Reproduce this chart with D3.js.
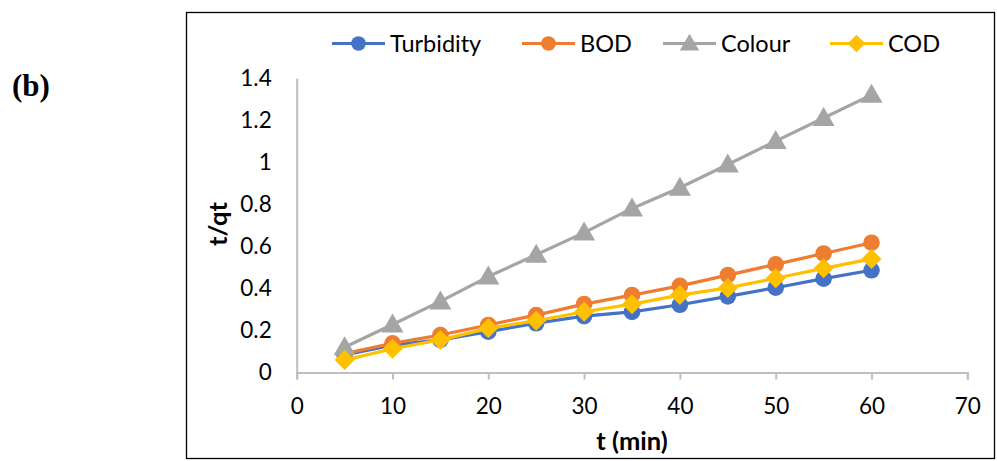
<!DOCTYPE html>
<html>
<head>
<meta charset="utf-8">
<script src="https://cdn.jsdelivr.net/npm/d3@7"></script>
<style>
  html, body { margin: 0; padding: 0; background: #fff; }
  svg { display: block; }
</style>
</head>
<body>
<svg id="chart" width="997" height="461"></svg>
<script>
// ---- data ----
const times = [5, 10, 15, 20, 25, 30, 35, 40, 45, 50, 55, 60];
const turbidity = [0.083, 0.13, 0.155, 0.194, 0.234, 0.268, 0.288, 0.322, 0.362, 0.403, 0.446, 0.486];
const bod = [0.09, 0.139, 0.178, 0.226, 0.273, 0.325, 0.368, 0.412, 0.463, 0.514, 0.566, 0.617];
const colour = [0.12, 0.228, 0.338, 0.456, 0.56, 0.665, 0.78, 0.878, 0.989, 1.1, 1.21, 1.32];
const cod = [0.059, 0.113, 0.155, 0.21, 0.246, 0.289, 0.325, 0.368, 0.402, 0.448, 0.495, 0.54];
const seriesNames = ["Turbidity", "BOD", "Colour", "COD"];
const seriesColors = ["#4472C4", "#ED7D31", "#A5A5A5", "#FFC000"];
const seriesShapes = ["circle", "circle", "triangle", "diamond"];
const xTicks = [0, 10, 20, 30, 40, 50, 60, 70];
const yTicks = [0, 0.2, 0.4, 0.6, 0.8, 1, 1.2, 1.4];
const xTitle = "t (min)";
const yTitle = "t/qt";
const panelLabel = "(b)";

const seriesValues = [turbidity, bod, colour, cod];

const svg = d3.select("#chart");
const font = "Lato, 'Open Sans', sans-serif";

// outer frame
svg.append("rect")
  .attr("x", 186.5).attr("y", 12.5)
  .attr("width", 808).attr("height", 446)
  .attr("fill", "none").attr("stroke", "#000").attr("stroke-width", 1.3);

// panel label
svg.append("text")
  .attr("x", 12).attr("y", 96)
  .attr("font-family", "'Liberation Serif', 'Times New Roman', serif")
  .attr("font-weight", "bold").attr("font-size", 31)
  .text(panelLabel);

const x = d3.scaleLinear().domain([0, 70]).range([296.7, 967.3]);
const y = d3.scaleLinear().domain([0, 1.4]).range([372.5, 78]);

// x axis
const xAxis = svg.append("g")
  .attr("transform", `translate(0,${y(0)})`)
  .call(d3.axisBottom(x).tickValues(xTicks).tickSize(7).tickPadding(19).tickFormat(d3.format("d")));
xAxis.select(".domain").attr("stroke", "#BFBFBF").attr("stroke-width", 2);
xAxis.selectAll(".tick line").attr("stroke", "#BFBFBF").attr("stroke-width", 2);
xAxis.selectAll(".tick text").attr("font-family", font).attr("font-size", 22.5).attr("fill", "#000");

// y axis
const yAxis = svg.append("g")
  .attr("transform", `translate(${x(0)},0)`)
  .call(d3.axisLeft(y).tickValues(yTicks).tickSize(0).tickPadding(25).tickFormat(d => d3.format("")(+d.toFixed(1))));
yAxis.select(".domain").attr("stroke", "#BFBFBF").attr("stroke-width", 2);
yAxis.selectAll(".tick text").attr("font-family", font).attr("font-size", 22.5).attr("fill", "#000");

// axis titles
svg.append("text")
  .attr("x", 632).attr("y", 450)
  .attr("text-anchor", "middle")
  .attr("font-family", font).attr("font-weight", "bold").attr("font-size", 25.5)
  .text(xTitle);

svg.append("text")
  .attr("transform", `translate(227,224) rotate(-90)`)
  .attr("text-anchor", "middle")
  .attr("font-family", font).attr("font-weight", "bold").attr("font-size", 25.5)
  .text(yTitle);

function markerPath(shape, s) {
  if (shape === "circle") return d3.symbol().type(d3.symbolCircle).size(Math.PI * (8.3 * s) * (8.3 * s))();
  if (shape === "triangle") return `M0,${-11 * s} L${11 * s},${8 * s} L${-11 * s},${8 * s} Z`;
  return `M0,${-10 * s} L${10 * s},0 L0,${10 * s} L${-10 * s},0 Z`;
}

const line = d3.line().x(d => x(d[0])).y(d => y(d[1]));

seriesNames.forEach((name, i) => {
  const pts = times.map((t, j) => [t, seriesValues[i][j]]);
  const g = svg.append("g");
  g.append("path")
    .attr("d", line(pts))
    .attr("fill", "none")
    .attr("stroke", seriesColors[i])
    .attr("stroke-width", 3.2)
    .attr("stroke-linejoin", "round");
  g.selectAll("path.m").data(pts).enter().append("path")
    .attr("class", "m")
    .attr("d", markerPath(seriesShapes[i], 1))
    .attr("transform", d => `translate(${x(d[0])},${y(d[1])})`)
    .attr("fill", seriesColors[i]);
});

// legend
const legendX = [332, 522, 663, 830];
const legend = svg.append("g");
seriesNames.forEach((name, i) => {
  const lx = legendX[i];
  const ly = 43.5;
  legend.append("line")
    .attr("x1", lx).attr("x2", lx + 53)
    .attr("y1", ly).attr("y2", ly)
    .attr("stroke", seriesColors[i]).attr("stroke-width", 3.2);
  legend.append("path")
    .attr("d", markerPath(seriesShapes[i], 0.88))
    .attr("transform", `translate(${lx + 26.5},${ly})`)
    .attr("fill", seriesColors[i]);
  legend.append("text")
    .attr("x", lx + 58).attr("y", ly + 8.5)
    .attr("font-family", font).attr("font-size", 23.5)
    .text(name);
});
</script>
</body>
</html>
